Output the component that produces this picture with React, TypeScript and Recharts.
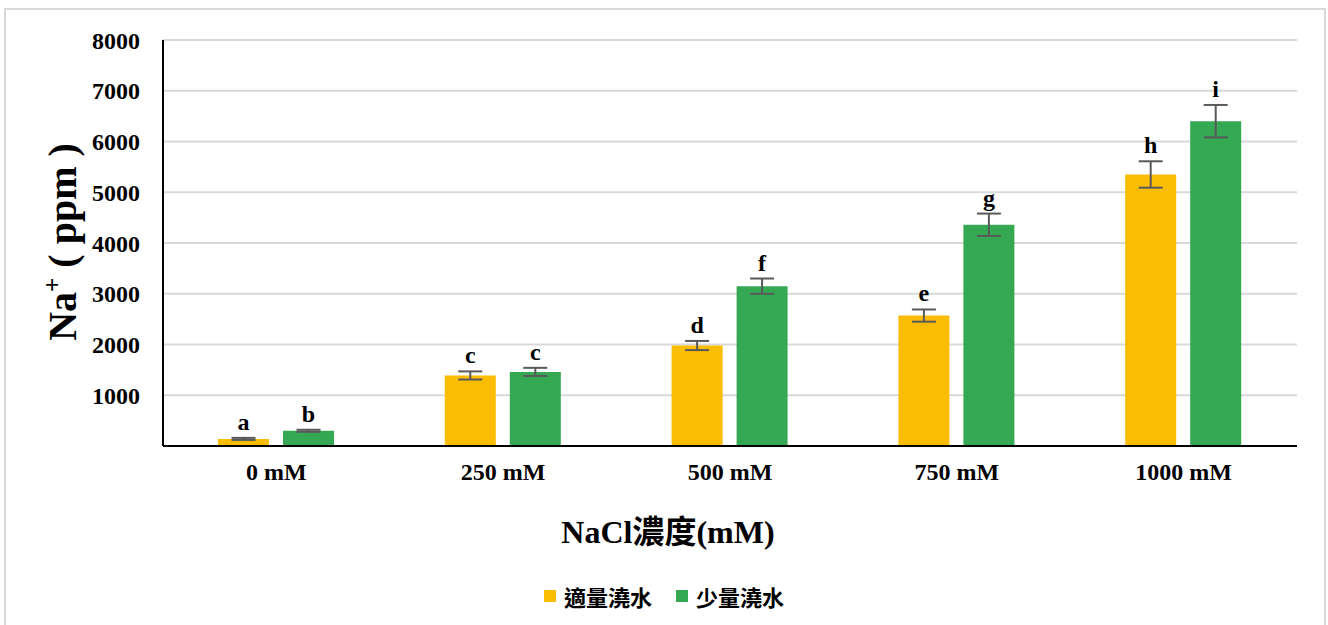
import { ComposedChart, Bar, XAxis, YAxis, CartesianGrid, ErrorBar, LabelList, Legend } from "recharts";

const categories = ["0 mM", "250 mM", "500 mM", "750 mM", "1000 mM"];
const moderateWater = [140, 1390, 1980, 2570, 5350];
const littleWater = [300, 1460, 3150, 4360, 6400];
const moderateErr = [20, 80, 90, 120, 260];
const littleErr = [20, 80, 150, 220, 320];
const moderateLetters = ["a", "c", "d", "e", "h"];
const littleLetters = ["b", "c", "f", "g", "i"];
const yTicks = [1000, 2000, 3000, 4000, 5000, 6000, 7000, 8000];

const YELLOW = "#FBBC04";
const GREEN = "#34A853";
const SERIF = "'Liberation Serif', 'Times New Roman', serif";
const CJK = "'Liberation Serif', 'Noto Sans CJK TC', serif";

const data = categories.map((name, i) => ({
  name,
  moderate: moderateWater[i],
  little: littleWater[i],
  moderateErr: moderateErr[i],
  littleErr: littleErr[i],
}));

// letter above the error bar cap
const makeLetter = (letters: string[], errs: number[]) => (props: any) => {
  const { x, y, width, height, value, index } = props;
  const perUnit = value ? height / value : 0;
  const top = y - errs[index] * perUnit;
  return (
    <text
      x={x + width / 2}
      y={top - 8}
      textAnchor="middle"
      fontFamily={SERIF}
      fontWeight="bold"
      fontSize={24}
      fill="#000"
    >
      {letters[index]}
    </text>
  );
};

const YLabel = () => (
  <text
    transform="translate(76, 242) rotate(-90)"
    textAnchor="middle"
    fontFamily={SERIF}
    fontWeight="bold"
    fontSize={40}
    fill="#000"
  >
    Na<tspan dy={-15} fontSize={25}>+</tspan>
    <tspan dy={15}> ( ppm )</tspan>
  </text>
);

const XLabel = (props: any) => {
  const { viewBox } = props;
  return (
    <text
      x={viewBox.x + viewBox.width / 2 - 62}
      y={543}
      textAnchor="middle"
      fontFamily={CJK}
      fontWeight="bold"
      fontSize={32}
      fill="#000"
    >
      NaCl濃度(mM)
    </text>
  );
};

const LegendContent = () => (
  <div style={{ display: "flex", justifyContent: "center", alignItems: "center", gap: 24, fontFamily: CJK, fontWeight: "bold", fontSize: 22 }}>
    <div style={{ display: "flex", alignItems: "center" }}>
      <span style={{ width: 12, height: 12, background: YELLOW, display: "inline-block", marginRight: 8 }} />
      適量澆水
    </div>
    <div style={{ display: "flex", alignItems: "center" }}>
      <span style={{ width: 12, height: 12, background: GREEN, display: "inline-block", marginRight: 8 }} />
      少量澆水
    </div>
  </div>
);

export default function App() {
  return (
    <div style={{ position: "absolute", left: 0, top: 0, width: 1328, height: 625, background: "#fff", overflow: "hidden" }}>
      <div
        style={{
          position: "absolute",
          left: 4,
          top: 8,
          width: 1318,
          height: 640,
          borderLeft: "2px solid #d9d9d9",
          borderTop: "2px solid #d9d9d9",
          borderRight: "2px solid #d9d9d9",
        }}
      />
      <div style={{ position: "absolute", left: 0, top: 0 }}>
        <ComposedChart
          width={1328}
          height={625}
          data={data}
          margin={{ top: 40, right: 31, left: 83, bottom: 117 }}
          barSize={51}
          barGap={14}
        >
          <CartesianGrid horizontal vertical={false} stroke="#d9d9d9" strokeWidth={2} />
          <XAxis
            dataKey="name"
            height={30}
            axisLine={{ stroke: "#000", strokeWidth: 2 }}
            tickLine={false}
            tickMargin={11}
            tick={{ fill: "#000", fontFamily: SERIF, fontWeight: "bold", fontSize: 24 }}
            label={<XLabel />}
          />
          <YAxis
            width={80}
            domain={[0, 8000]}
            ticks={yTicks}
            interval={0}
            axisLine={{ stroke: "#000", strokeWidth: 2 }}
            tickLine={false}
            tickMargin={17}
            tick={{ fill: "#000", fontFamily: SERIF, fontWeight: "bold", fontSize: 24 }}
            label={<YLabel />}
          />
          <Legend
            content={<LegendContent />}
            wrapperStyle={{ position: "absolute", top: 580, left: 0, width: 1328 }}
          />
          <Bar dataKey="moderate" name="適量澆水" fill={YELLOW} isAnimationActive={false}>
            <ErrorBar dataKey="moderateErr" width={12} stroke="#595959" strokeWidth={2} />
            <LabelList dataKey="moderate" content={makeLetter(moderateLetters, moderateErr)} />
          </Bar>
          <Bar dataKey="little" name="少量澆水" fill={GREEN} isAnimationActive={false}>
            <ErrorBar dataKey="littleErr" width={12} stroke="#595959" strokeWidth={2} />
            <LabelList dataKey="little" content={makeLetter(littleLetters, littleErr)} />
          </Bar>
        </ComposedChart>
      </div>
    </div>
  );
}
